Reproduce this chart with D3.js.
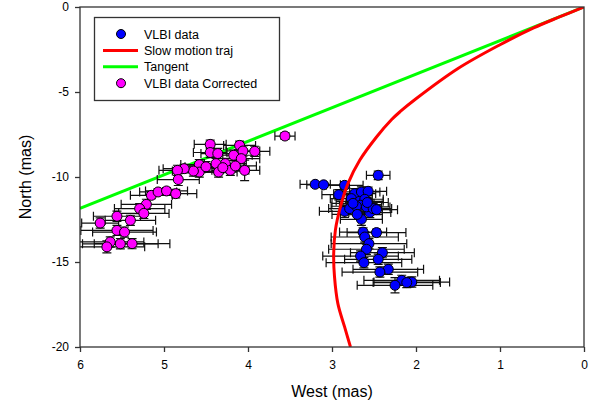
<!DOCTYPE html>
<html>
<head>
<meta charset="utf-8">
<script src="https://cdn.jsdelivr.net/npm/d3@7"></script>
<style>
  body { margin: 0; background: #fff; }
  svg { display: block; }
  text { font-family: "Liberation Sans", Arial, sans-serif; fill: #000; }
</style>
</head>
<body>
<svg id="chart" width="608" height="412"></svg>
<script>
// Axis ticks
const westTicks = [6, 5, 4, 3, 2, 1, 0];
const northTicks = [0, -5, -10, -15, -20];

// VLBI positions (mas) with 1-sigma errors
const vlbiWest = [2.45, 3.20, 3.10, 2.85, 2.73, 2.65, 2.57, 2.92, 2.77, 2.67, 2.61, 2.66, 2.85, 2.55, 2.65,
  2.79, 2.59, 2.51, 2.47, 2.71, 2.63, 2.47, 2.61, 2.56, 2.59, 2.40, 2.66, 2.45, 2.62, 2.33, 2.43, 2.17, 2.05, 2.11, 2.25,
  2.75, 2.70, 2.58];
const vlbiNorth = [-9.90, -10.43, -10.46, -10.49, -10.98, -10.88, -10.84, -11.04, -11.27, -11.43, -11.31, -11.66, -12.02, -12.09, -12.49,
  -11.86, -11.76, -11.86, -11.92, -11.72, -13.24, -13.27, -13.53, -13.92, -14.25, -14.45, -14.65, -14.84, -15.04, -15.43, -15.59, -16.08, -16.18, -16.21, -16.37,
  -11.55, -12.20, -11.50];
const vlbiWestErr = [0.14, 0.18, 0.20, 0.22, 0.25, 0.22, 0.22, 0.20, 0.25, 0.28, 0.22, 0.25, 0.30, 0.25, 0.25,
  0.25, 0.28, 0.22, 0.25, 0.30, 0.28, 0.35, 0.40, 0.45, 0.45, 0.38, 0.45, 0.40, 0.45, 0.42, 0.45, 0.45, 0.45, 0.40, 0.45,
  0.25, 0.30, 0.25];
const vlbiNorthErr = [0.25, 0.15, 0.15, 0.20, 0.30, 0.30, 0.25, 0.30, 0.30, 0.30, 0.30, 0.35, 0.35, 0.30, 0.35,
  0.35, 0.30, 0.30, 0.30, 0.35, 0.25, 0.20, 0.30, 0.30, 0.30, 0.30, 0.30, 0.30, 0.30, 0.30, 0.30, 0.30, 0.30, 0.30, 0.45,
  0.30, 0.30, 0.30];

// Corrected VLBI positions (mas)
const corrWest = [3.56, 4.45, 4.10, 4.45, 4.36, 4.17, 4.06, 3.92, 4.08, 4.27, 4.38, 4.58, 4.04, 4.21, 4.35, 4.58, 4.65, 4.76, 4.84, 4.83,
  5.15, 5.07, 4.97, 4.86, 5.21, 5.29, 5.24, 5.56, 5.40, 5.76, 5.56, 5.47, 5.64, 5.52, 5.38, 5.68,
  4.30, 4.50, 4.15];
const corrNorth = [-7.59, -8.08, -8.14, -8.56, -8.62, -8.72, -8.47, -8.49, -8.92, -9.21, -9.21, -9.27, -9.61, -9.61, -9.71, -9.71, -9.65, -9.51, -9.61, -10.15,
  -11.08, -10.88, -10.82, -10.98, -11.61, -11.86, -12.14, -12.31, -12.55, -12.71, -13.14, -13.24, -13.82, -13.93, -13.92, -14.11,
  -9.45, -9.40, -9.35];
const corrWestErr = [0.12, 0.19, 0.19, 0.20, 0.20, 0.22, 0.20, 0.18, 0.22, 0.25, 0.22, 0.22, 0.18, 0.22, 0.22, 0.25, 0.25, 0.25, 0.22, 0.25,
  0.25, 0.22, 0.25, 0.25, 0.30, 0.30, 0.30, 0.28, 0.30, 0.22, 0.43, 0.38, 0.40, 0.45, 0.45, 0.45,
  0.25, 0.25, 0.25];
const corrNorthErr = [0.20, 0.25, 0.25, 0.30, 0.30, 0.30, 0.30, 0.30, 0.30, 0.30, 0.30, 0.30, 0.60, 0.30, 0.30, 0.30, 0.30, 0.25, 0.30, 0.35,
  0.20, 0.20, 0.20, 0.25, 0.30, 0.30, 0.30, 0.30, 0.30, 0.30, 0.30, 0.30, 0.30, 0.30, 0.30, 0.35,
  0.30, 0.30, 0.30];

// Slow motion trajectory (mas)
const trajWest = [0, 0.30, 0.60, 1.00, 1.50, 2.00, 2.19, 2.29, 2.47, 2.67, 2.81, 2.90, 2.96, 2.98, 2.97, 2.93, 2.85, 2.78];
const trajNorth = [0, -0.60, -1.23, -2.22, -3.62, -5.40, -6.16, -6.62, -7.65, -9.02, -10.39, -11.76, -13.14, -14.51, -15.88, -17.45, -18.82, -20.0];

// Tangent to the trajectory at the origin
const tangentWest = [0, 6];
const tangentNorth = [0, -11.85];

const svg = d3.select("#chart");
const x = d3.scaleLinear().domain([6, 0]).range([80, 584]);
const y = d3.scaleLinear().domain([0, -20]).range([7, 347]);

svg.append("defs").append("clipPath").attr("id", "plotClip")
  .append("rect").attr("x", 80).attr("y", 7).attr("width", 504).attr("height", 340);

const plot = svg.append("g").attr("clip-path", "url(#plotClip)");
const line = d3.line().x(d => x(d[0])).y(d => y(d[1]));

// Tangent line
plot.append("path")
  .datum(tangentWest.map((w, i) => [w, tangentNorth[i]]))
  .attr("d", line)
  .attr("fill", "none").attr("stroke", "#00ff00").attr("stroke-width", 3);

function drawSeries(west, north, werr, nerr, fill) {
  const data = west.map((w, i) => ({ w, n: north[i], we: werr[i], ne: nerr[i] }));
  const g = plot.append("g");
  const eb = g.selectAll("g.eb").data(data).join("g").attr("class", "eb")
    .attr("stroke", "#111").attr("stroke-width", 1.2).attr("fill", "none");
  // horizontal bars + caps
  eb.append("path").attr("d", d => {
    const x1 = x(d.w + d.we), x2 = x(d.w - d.we), yy = y(d.n);
    return `M${x1},${yy}H${x2}M${x1},${yy - 4.5}V${yy + 4.5}M${x2},${yy - 4.5}V${yy + 4.5}`;
  });
  // vertical bars + caps
  eb.append("path").attr("d", d => {
    const y1 = y(d.n + d.ne), y2 = y(d.n - d.ne), xx = x(d.w);
    return `M${xx},${y1}V${y2}M${xx - 4.5},${y1}H${xx + 4.5}M${xx - 4.5},${y2}H${xx + 4.5}`;
  });
  g.selectAll("circle").data(data).join("circle")
    .attr("cx", d => x(d.w)).attr("cy", d => y(d.n)).attr("r", 5)
    .attr("fill", fill).attr("stroke", "#000").attr("stroke-width", 1);
}

drawSeries(corrWest, corrNorth, corrWestErr, corrNorthErr, "#ff00ff");
drawSeries(vlbiWest, vlbiNorth, vlbiWestErr, vlbiNorthErr, "#0000ff");

// Trajectory curve
plot.append("path")
  .datum(trajWest.map((w, i) => [w, trajNorth[i]]))
  .attr("d", line.curve(d3.curveCatmullRom))
  .attr("fill", "none").attr("stroke", "#ff0000").attr("stroke-width", 3);

// Frame
svg.append("rect").attr("x", 80).attr("y", 7).attr("width", 504).attr("height", 340)
  .attr("fill", "none").attr("stroke", "#333").attr("stroke-width", 1.3);

// Axes
const xAxis = svg.append("g").attr("transform", "translate(0,347)")
  .call(d3.axisBottom(x).tickValues(westTicks).tickFormat(d => String(d)).tickSize(5).tickSizeOuter(0).tickPadding(8));
const yAxis = svg.append("g").attr("transform", "translate(80,0)")
  .call(d3.axisLeft(y).tickValues(northTicks).tickFormat(d => String(d)).tickSize(5).tickSizeOuter(0).tickPadding(6));
[xAxis, yAxis].forEach(a => {
  a.select(".domain").remove();
  a.selectAll("line").attr("stroke", "#333").attr("stroke-width", 1.3);
  a.selectAll("text").attr("font-size", 12).attr("font-family", "Liberation Sans, Arial, sans-serif").attr("fill", "#000");
});

// Axis titles
svg.append("text").attr("x", 332).attr("y", 397).attr("text-anchor", "middle")
  .attr("font-size", 16).text("West (mas)");
svg.append("text").attr("transform", "translate(31,177) rotate(-90)").attr("text-anchor", "middle")
  .attr("font-size", 16).text("North (mas)");

// Legend
const legend = svg.append("g");
legend.append("rect").attr("x", 94.5).attr("y", 17.5).attr("width", 185).attr("height", 83)
  .attr("fill", "#fff").attr("stroke", "#333").attr("stroke-width", 1.3);
const legendItems = [
  { label: "VLBI data", kind: "dot", color: "#0000ff" },
  { label: "Slow motion traj", kind: "line", color: "#ff0000" },
  { label: "Tangent", kind: "line", color: "#00ff00" },
  { label: "VLBI data Corrected", kind: "dot", color: "#ff00ff" }
];
legendItems.forEach((it, i) => {
  const cy = 34 + i * 16.4;
  if (it.kind === "dot") {
    legend.append("circle").attr("cx", 121).attr("cy", cy).attr("r", 4.5)
      .attr("fill", it.color).attr("stroke", "#000").attr("stroke-width", 1);
  } else {
    legend.append("line").attr("x1", 103).attr("x2", 138).attr("y1", cy).attr("y2", cy)
      .attr("stroke", it.color).attr("stroke-width", 3);
  }
  legend.append("text").attr("x", 144).attr("y", cy + 4.5).attr("font-size", 12.5).text(it.label);
});
</script>
</body>
</html>
